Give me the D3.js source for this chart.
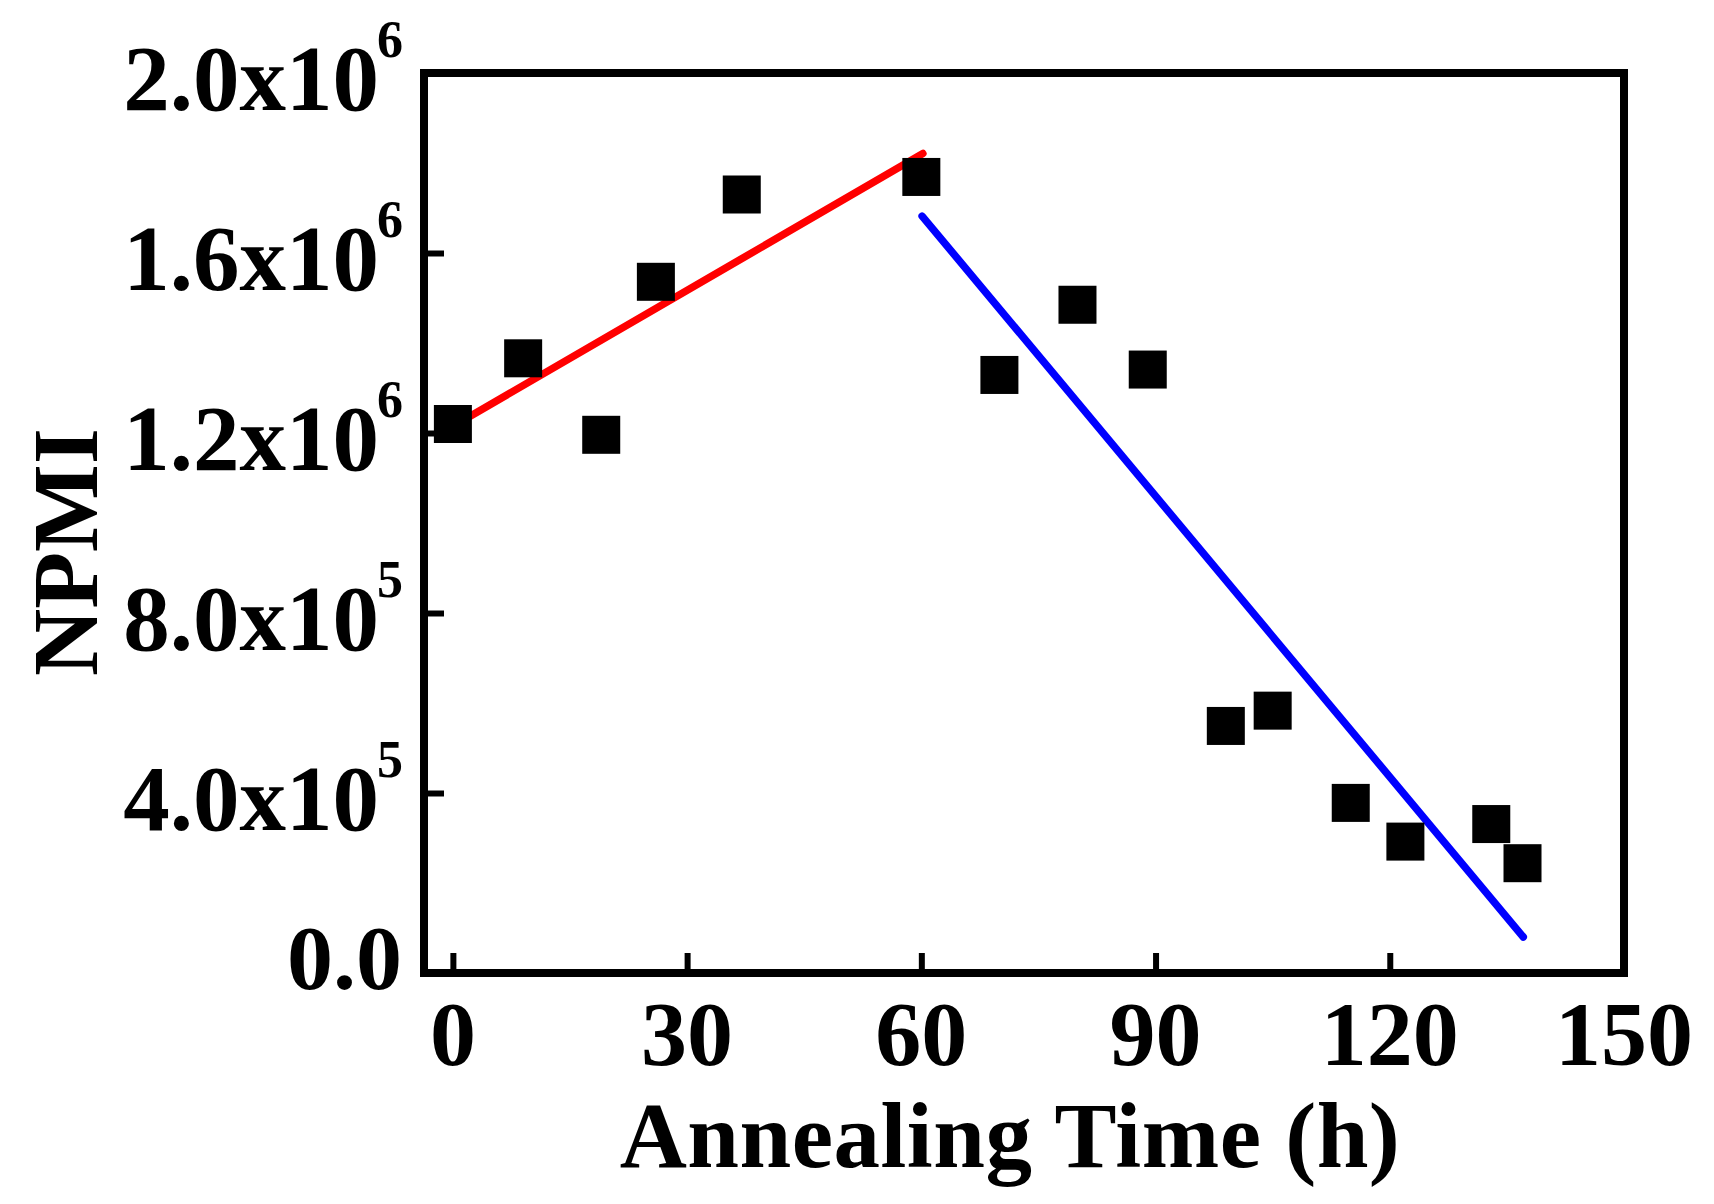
<!DOCTYPE html>
<html>
<head>
<meta charset="utf-8">
<script src="https://cdn.jsdelivr.net/npm/d3@7"></script>
<style>
  body { margin: 0; background: #fff; }
  svg { display: block; }
</style>
</head>
<body>
<svg id="chart" width="1714" height="1204"></svg>
<script>
// annealing time (h) and NPMI
const times = [0, 9, 19, 26, 37, 60, 70, 80, 89, 99, 105, 115, 122, 133, 137]
const npmi = [1.22e6, 1.366e6, 1.196e6, 1.536e6, 1.73e6, 1.769e6, 1.329e6, 1.485e6, 1.341e6,
              0.549e6, 0.583e6, 0.378e6, 0.292e6, 0.331e6, 0.244e6]

// fitted lines, end points
const redFit = [[0, 1.215e6], [60.2, 1.821e6]]
const blueFit = [[60.1, 1.682e6], [137.1, 0.08e6]]

const xTicks = [0, 30, 60, 90, 120, 150]
const yTicks = [0, 4e5, 8e5, 1.2e6, 1.6e6, 2.0e6]

const font = "'Liberation Serif', 'Times New Roman', serif"

const plotLeft = 424, plotRight = 1624, plotTop = 73, plotBottom = 973

const svg = d3.select("#chart")

const x = d3.scaleLinear().domain([-3.7, 150]).range([plotLeft, plotRight])
const y = d3.scaleLinear().domain([0, 2e6]).range([plotBottom, plotTop])

// ticks pointing inward
svg.append("g")
    .attr("transform", `translate(0, ${plotBottom})`)
    .call(d3.axisBottom(x).tickValues(xTicks).tickSize(-20).tickFormat(""))
    .call(g => g.select(".domain").remove())
    .selectAll("line").attr("stroke", "#000").attr("stroke-width", 6)

svg.append("g")
    .attr("transform", `translate(${plotLeft}, 0)`)
    .call(d3.axisLeft(y).tickValues(yTicks).tickSize(-20).tickFormat(""))
    .call(g => g.select(".domain").remove())
    .selectAll("line").attr("stroke", "#000").attr("stroke-width", 6)

// frame
svg.append("rect")
    .attr("x", plotLeft).attr("y", plotTop)
    .attr("width", plotRight - plotLeft).attr("height", plotBottom - plotTop)
    .attr("fill", "none").attr("stroke", "#000").attr("stroke-width", 8)

// x tick labels
svg.append("g").selectAll("text").data(xTicks).enter().append("text")
    .attr("x", d => x(d))
    .attr("y", 1065)
    .attr("text-anchor", "middle")
    .attr("font-family", font).attr("font-weight", "bold").attr("font-size", 92)
    .text(d => d)

// y tick labels: mantissa x 10 then the exponent as a separate superscript
const yLab = svg.append("g")
yTicks.forEach(d => {
    if (d === 0) {
        yLab.append("text")
            .attr("x", 402).attr("y", y(d) + 16)
            .attr("text-anchor", "end")
            .attr("font-family", font).attr("font-weight", "bold").attr("font-size", 92)
            .text("0.0")
        return
    }
    const e = Math.floor(Math.log10(d))
    const m = (d / Math.pow(10, e)).toFixed(1)
    yLab.append("text")
        .attr("x", 379).attr("y", y(d) + 37)
        .attr("text-anchor", "end")
        .attr("font-family", font).attr("font-weight", "bold").attr("font-size", 93)
        .text(m + "x10")
    yLab.append("text")
        .attr("x", 377).attr("y", y(d) - 16)
        .attr("text-anchor", "start")
        .attr("font-family", font).attr("font-weight", "bold").attr("font-size", 52)
        .text(e)
})

// fitted lines
const line = d3.line().x(d => x(d[0])).y(d => y(d[1]))

svg.append("path").datum(redFit)
    .attr("d", line).attr("fill", "none")
    .attr("stroke", "#ff0000").attr("stroke-width", 7.5).attr("stroke-linecap", "round")

svg.append("path").datum(blueFit)
    .attr("d", line).attr("fill", "none")
    .attr("stroke", "#0000ff").attr("stroke-width", 7.5).attr("stroke-linecap", "round")

// square markers
const size = 38
svg.append("g").selectAll("rect").data(times).enter().append("rect")
    .attr("x", (d, i) => x(d) - size / 2)
    .attr("y", (d, i) => y(npmi[i]) - size / 2)
    .attr("width", size).attr("height", size)
    .attr("fill", "#000")

// axis titles
svg.append("text")
    .attr("x", 1010).attr("y", 1167)
    .attr("text-anchor", "middle")
    .attr("font-family", font).attr("font-weight", "bold").attr("font-size", 93)
    .attr("letter-spacing", 0.5)
    .text("Annealing Time (h)")

svg.append("text")
    .attr("transform", "translate(97, 552) rotate(-90)")
    .attr("text-anchor", "middle")
    .attr("font-family", font).attr("font-weight", "bold").attr("font-size", 93)
    .text("NPMI")
</script>
</body>
</html>
